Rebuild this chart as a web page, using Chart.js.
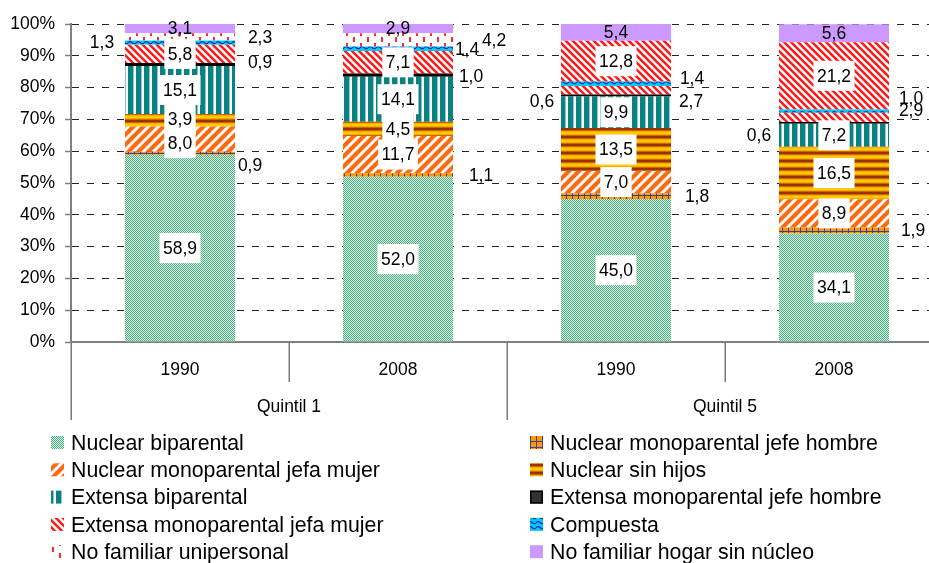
<!DOCTYPE html>
<html><head><meta charset="utf-8">
<script src="https://cdn.jsdelivr.net/npm/chart.js@4/dist/chart.umd.min.js"></script>
<style>html,body{margin:0;padding:0;overflow:hidden;background:#fff}canvas{display:block}</style>
</head><body>
<canvas id="c" width="960" height="563"></canvas>
<script>
// ---------- DATA ----------
const categories = ['1990', '2008', '1990', '2008'];
const groupLabels = ['Quintil 1', 'Quintil 5'];
const groupSizes = [2, 2];
const seriesNames = [
  'Nuclear biparental', 'Nuclear monoparental jefe hombre',
  'Nuclear monoparental jefa mujer', 'Nuclear sin hijos',
  'Extensa biparental', 'Extensa monoparental jefe hombre',
  'Extensa monoparental jefa mujer', 'Compuesta',
  'No familiar unipersonal', 'No familiar hogar sin núcleo'
];
const nuclearBiparental      = [58.9, 52.0, 45.0, 34.1];
const nuclearMonoJefeHombre  = [0.9, 1.1, 1.8, 1.9];
const nuclearMonoJefaMujer   = [8.0, 11.7, 7.0, 8.9];
const nuclearSinHijos        = [3.9, 4.5, 13.5, 16.5];
const extensaBiparental      = [15.1, 14.1, 9.9, 7.2];
const extensaMonoJefeHombre  = [0.9, 1.0, 0.6, 0.6];
const extensaMonoJefaMujer   = [5.8, 7.1, 2.7, 2.9];
const compuesta              = [1.3, 1.4, 1.4, 1.0];
const noFamiliarUnipersonal  = [2.3, 4.2, 12.8, 21.2];
const noFamiliarSinNucleo    = [3.1, 2.9, 5.4, 5.6];
const yTickValues = [0, 10, 20, 30, 40, 50, 60, 70, 80, 90, 100];

// ---------- STYLES ----------
const canvas = document.getElementById('c');
const ctx0 = canvas.getContext('2d');
function makePattern(w, h, draw) {
  const c = document.createElement('canvas'); c.width = w; c.height = h;
  const g = c.getContext('2d'); draw(g, w, h);
  return ctx0.createPattern(c, 'repeat');
}
function diag(g, P, color, lw, up) {
  g.strokeStyle = color; g.lineWidth = lw; g.beginPath();
  for (let o = -P; o <= P; o += P) {
    if (up) { g.moveTo(o - 3, P + 3); g.lineTo(o + P + 3, -3); }
    else { g.moveTo(o - 3, -3); g.lineTo(o + P + 3, P + 3); }
  }
  g.stroke();
}
const pat = {
  nb: makePattern(2, 2, g => { g.fillStyle = '#d3eee0'; g.fillRect(0, 0, 2, 2); g.fillStyle = '#52b184'; g.fillRect(0, 0, 1, 1); g.fillRect(1, 1, 1, 1); }),
  nmh: makePattern(6, 6, g => { g.fillStyle = '#ff9900'; g.fillRect(0, 0, 6, 6); g.fillStyle = '#403d96'; g.fillRect(2, 0, 1, 6); g.fillRect(0, 3, 6, 1); }),
  nmm: makePattern(10, 10, g => { g.fillStyle = '#ffffff'; g.fillRect(0, 0, 10, 10); diag(g, 10, '#ff6a10', 4.2, true); }),
  nsh: makePattern(2, 8, g => { const c = ['#993300', '#993300', '#cc6600', '#ffaa00', '#ffcc00', '#ffcc00', '#ffaa00', '#cc6600']; c.forEach((col, i) => { g.fillStyle = col; g.fillRect(0, i, 2, 1); }); }),
  eb: makePattern(8, 2, g => { g.fillStyle = '#ffffff'; g.fillRect(0, 0, 8, 2); g.fillStyle = '#0a8282'; g.fillRect(0, 0, 5, 2); g.fillStyle = '#8cc6c6'; g.fillRect(5, 0, 1, 2); }),
  emm: makePattern(7, 7, g => { g.fillStyle = '#ffffff'; g.fillRect(0, 0, 7, 7); diag(g, 7, '#ff1a1a', 2.6, false); }),
  comp: makePattern(8, 5, g => { g.fillStyle = '#00c8f8'; g.fillRect(0, 0, 8, 5); g.strokeStyle = '#1030b0'; g.lineWidth = 1.2; g.beginPath(); g.moveTo(0, 3); g.quadraticCurveTo(2, 0.5, 4, 2.5); g.quadraticCurveTo(6, 4.5, 8, 3); g.stroke(); }),
  uni: makePattern(14, 12, g => { g.fillStyle = '#ffffff'; g.fillRect(0, 0, 14, 12); g.fillStyle = '#ff2a2a'; g.fillRect(3, 1, 2, 5); g.fillRect(10, 7, 2, 5); })
};
const seriesFills = [
  pat.nb, pat.nmh, pat.nmm, pat.nsh, pat.eb, '#000000', pat.emm, pat.comp,
  [pat.uni, pat.uni, pat.emm, pat.emm], '#cc99ff'
];
const legendFills = [pat.nb, pat.nmh, pat.nmm, pat.nsh, pat.eb, '#333333', pat.emm, pat.comp, pat.uni, '#cc99ff'];
const seriesValues = [
  nuclearBiparental, nuclearMonoJefeHombre, nuclearMonoJefaMujer, nuclearSinHijos,
  extensaBiparental, extensaMonoJefeHombre, extensaMonoJefaMujer, compuesta,
  noFamiliarUnipersonal, noFamiliarSinNucleo
];
// label placement: c = centered with white box, n = centered plain, r/l = outside right/left
const C = { p: 'c' }, N = { p: 'n' };
const labelLayout = [
  [C, C, C, C],
  [{ p: 'r', dx: 15, dy: 12 }, { p: 'r', dx: 28 }, { p: 'r', dx: 26 }, { p: 'r', dx: 24 }],
  [{ p: 'c', dy: 4 }, C, C, C],
  [{ p: 'c', dy: -1 }, C, C, C],
  [C, C, C, C],
  [{ p: 'r', dx: 25, dy: -2 }, { p: 'r', dx: 18, dy: 1 }, { p: 'l', dx: 19, dy: 6 }, { p: 'l', dx: 20, dy: 12 }],
  [C, C, { p: 'r', dx: 20, dy: 11 }, { p: 'r', dx: 22, dy: -7 }],
  [{ p: 'l', dx: 23 }, { p: 'r', dx: 14 }, { p: 'r', dx: 21, dy: -6 }, { p: 'r', dx: 22, dy: -13 }],
  [{ p: 'r', dx: 25 }, { p: 'r', dx: 41 }, C, C],
  [N, N, N, N]
];
const FONT = '"Liberation Sans", Arial, sans-serif';
const LABEL_FONT = '17.5px ' + FONT;

const labelPlugin = {
  id: 'valueLabels',
  afterDatasetsDraw(chart) {
    const c = chart.ctx; c.save();
    c.font = LABEL_FONT; c.textAlign = 'center'; c.textBaseline = 'middle';
    chart.data.datasets.forEach((ds, di) => {
      const meta = chart.getDatasetMeta(di);
      meta.data.forEach((el, i) => {
        const st = labelLayout[di][i];
        const txt = ds.data[i].toFixed(1).replace('.', ',');
        let x = el.x, y = (el.y + el.base) / 2 + (st.dy || 0);
        if (st.p === 'r') x = el.x + el.width / 2 + st.dx;
        else if (st.p === 'l') x = el.x - el.width / 2 - st.dx;
        if (st.p === 'c') {
          const w = c.measureText(txt).width + 7;
          c.fillStyle = '#ffffff'; c.fillRect(x - w / 2, y - 15, w, 30);
        }
        c.fillStyle = '#000000'; c.fillText(txt, x, y + 1);
      });
    });
    c.restore();
  }
};

const axisDecor = {
  id: 'axisDecor',
  afterDraw(chart) {
    const c = chart.ctx, xs = chart.scales.x, ca = chart.chartArea;
    const n = categories.length;
    const step = xs.getPixelForValue(1) - xs.getPixelForValue(0);
    let acc = 0; const groupBounds = new Set([0]);
    groupSizes.forEach(s => { acc += s; groupBounds.add(acc); });
    c.save();
    c.strokeStyle = '#7a7a7a'; c.lineWidth = 1.5;
    for (let b = 0; b <= n; b++) {
      const x = Math.round(xs.getPixelForValue(0) - step / 2 + b * step) + 0.25;
      const len = groupBounds.has(b) ? 78 : 40;
      c.beginPath(); c.moveTo(x, ca.bottom); c.lineTo(x, ca.bottom + len); c.stroke();
    }
    c.font = LABEL_FONT; c.fillStyle = '#000'; c.textAlign = 'center'; c.textBaseline = 'middle';
    let start = 0;
    groupSizes.forEach((s, gi) => {
      const x = (xs.getPixelForValue(start) + xs.getPixelForValue(start + s - 1)) / 2;
      c.fillText(groupLabels[gi], x, ca.bottom + 65);
      start += s;
    });
    // legend
    c.font = '21.3px ' + FONT; c.textAlign = 'left';
    const colX = [51, 530], rowY0 = 443, rowStep = 27.3;
    chart.data.datasets.forEach((ds, i) => {
      const col = i % 2, row = Math.floor(i / 2);
      const x = colX[col], y = rowY0 + row * rowStep;
      c.fillStyle = legendFills[i];
      c.fillRect(x, y - 7, 13, 13);
      if (i === 5) { c.strokeStyle = '#000'; c.lineWidth = 1.5; c.strokeRect(x + 0.75, y - 6.25, 11.5, 11.5); }
      c.fillStyle = '#000';
      c.fillText(ds.label, x + 20, y + 1);
    });
    c.restore();
  }
};

new Chart(canvas, {
  type: 'bar',
  data: {
    labels: categories,
    datasets: seriesNames.map((name, i) => ({
      label: name,
      data: seriesValues[i],
      backgroundColor: seriesFills[i],
      borderWidth: 0,
      categoryPercentage: 1,
      barPercentage: 0.505
    }))
  },
  options: {
    responsive: false,
    animation: false,
    layout: { padding: { left: 0, right: 17, top: 24, bottom: 121 } },
    plugins: { legend: { display: false }, tooltip: { enabled: false } },
    scales: {
      x: {
        stacked: true,
        grid: { display: false },
        border: { display: true, color: '#808080', width: 2 },
        ticks: { color: '#000', font: { family: FONT, size: 17.5 }, padding: 9.5, maxRotation: 0, autoSkip: false },
        afterFit: s => { s.height = 100; }
      },
      y: {
        stacked: true,
        min: 0, max: 100,
        afterBuildTicks: s => { s.ticks = yTickValues.map(v => ({ value: v })); },
        grid: {
          color: c => (c.tick && c.tick.value === 0) ? 'rgba(0,0,0,0)' : '#222',
          lineWidth: 1, tickLength: 6, tickColor: '#808080', tickWidth: 1.5
        },
        border: { display: true, color: '#808080', width: 2, dash: [7, 8] },
        ticks: { color: '#000', font: { family: FONT, size: 17.5 }, padding: 10, callback: v => v + '%' },
        afterFit: s => { s.width = 71; }
      }
    }
  },
  plugins: [labelPlugin, axisDecor]
});
</script>
</body></html>
